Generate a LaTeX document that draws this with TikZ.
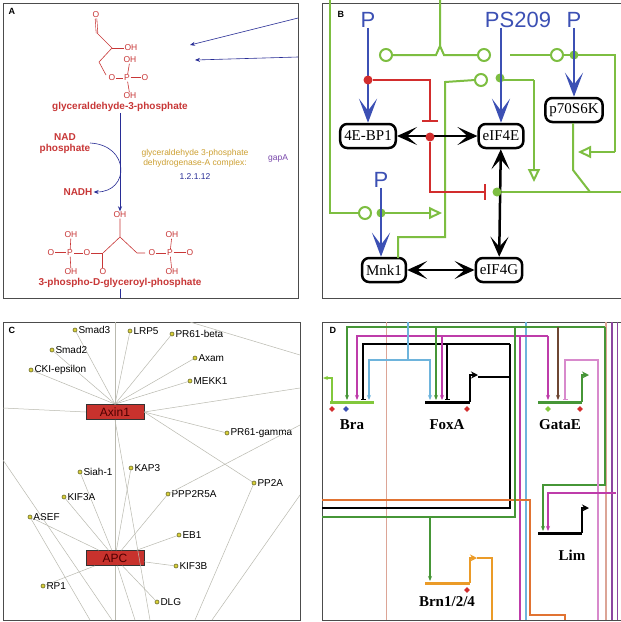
\documentclass[tikz,border=0pt]{standalone}
\usepackage{fontspec}
\setmainfont{Liberation Serif}
\setsansfont{Liberation Sans}
\usetikzlibrary{arrows.meta,positioning,shapes.geometric}
\definecolor{chem}{RGB}{200,55,55}
\definecolor{navy}{RGB}{40,45,150}
\definecolor{enz}{RGB}{205,160,50}
\definecolor{gapc}{RGB}{120,70,170}
\definecolor{pblue}{RGB}{60,80,180}
\definecolor{lgreen}{RGB}{125,190,65}
\definecolor{bred}{RGB}{210,45,45}
\definecolor{edge}{RGB}{185,185,175}
\definecolor{olive}{RGB}{150,150,60}
\definecolor{boxred}{RGB}{200,50,45}
\definecolor{dlime}{RGB}{130,200,60}
\definecolor{dgreen}{RGB}{70,150,55}
\definecolor{dmag}{RGB}{190,60,170}
\definecolor{dcyan}{RGB}{110,180,220}
\definecolor{dbrown}{RGB}{110,70,50}
\definecolor{dpink}{RGB}{220,165,150}
\definecolor{dorange}{RGB}{235,155,40}
\definecolor{dored}{RGB}{225,115,50}
\definecolor{dpurple}{RGB}{140,70,160}
\tikzset{
    panel/.style={draw=black!70,line width=0.8pt},
    plabel/.style={font=\sffamily\bfseries\small,anchor=north west},
    atom/.style={text=chem,font=\sffamily\fontsize{8.5}{9}\selectfont,inner sep=0.5pt},
    bond/.style={draw=chem,line width=0.6pt},
    chemname/.style={text=chem,font=\sffamily\bfseries\fontsize{10}{11}\selectfont,inner sep=1pt},
    gene/.style={draw=black,line width=2.5pt,rounded corners=7pt,fill=white,font=\fontsize{15}{16}\selectfont,minimum height=24pt,inner xsep=4pt},
    phos/.style={text=pblue,font=\sffamily\fontsize{22}{22}\selectfont,inner sep=0pt},
    bigtip/.style={-{Stealth[length=24pt,width=18pt,inset=12pt]}},
    bigtips/.style={{Stealth[length=20pt,width=18pt,inset=10pt]}-{Stealth[length=20pt,width=18pt,inset=10pt]}},
    gline/.style={draw=lgreen,line width=2pt},
    ocirc/.style={circle,draw=lgreen,line width=2pt,fill=white,minimum size=12pt,inner sep=0pt},
    fdot/.style={circle,fill=lgreen,minimum size=9pt,inner sep=0pt},
    rdot/.style={circle,fill=bred,minimum size=9pt,inner sep=0pt},
    otri/.style={-{Triangle[open,length=13pt,width=12pt,line width=2pt]}},
    prot/.style={circle,draw=olive!70!black,fill=yellow!60!olive,minimum size=4pt,inner sep=0pt,line width=0.6pt},
    plab/.style={font=\sffamily\fontsize{10}{10}\selectfont,anchor=west,inner sep=1pt},
    hub/.style={draw=black!80,fill=boxred,minimum width=58pt,minimum height=15pt,font=\sffamily\fontsize{12}{12}\selectfont,text=black!70!red},
    elink/.style={draw=edge,line width=0.5pt},
    wire/.style={line width=1.5pt,-{Stealth[length=5pt,width=4pt]}},
    rep/.style={line width=1.5pt,-{Bar[width=5pt]}},
    gbar/.style={line width=3pt},
    glab/.style={font=\fontsize{15}{16}\selectfont\bfseries},
    dia/.style={diamond,minimum size=6pt,inner sep=0pt}
}
\begin{document}
\begin{tikzpicture}[x=1pt,y=-1pt]
\useasboundingbox (0,0) rectangle (621,622);
\fill[white] (0,0) rectangle (621,622);
% panel A
\draw[panel] (3,3) rectangle (298,298);
\node[plabel] at (5,5) {A};
\node[atom] (o1) at (96,15) {O};
\draw[bond,double,double distance=1pt] (o1.south) -- (97,33);
\draw[bond] (97,33) -- (112,48) -- (99,62) -- (106,75);
\node[atom] (oh1) at (131,48) {OH};
\draw[bond] (112,48) -- (oh1.west);
\node[atom] (o2) at (112,78) {O};
\node[atom] (p1) at (127,78) {P};
\node[atom] (o3) at (145,78) {O};
\node[atom] (oh2) at (130,60) {OH};
\node[atom] (oh3) at (130,96) {OH};
\draw[bond] (o2) -- (p1);
\draw[bond,double,double distance=1pt] (p1) -- (o3);
\draw[bond] (p1) -- (oh2); \draw[bond] (p1) -- (oh3);
\node[chemname] (g3p) at (120,107) {glyceraldehyde-3-phosphate};
\node[chemname,align=center] (nad) at (65,144) {NAD\\phosphate};
\node[chemname] (nadh) at (78,192) {NADH};
\node[text=enz,font=\sffamily\fontsize{8.5}{10}\selectfont,align=center] (enzn) at (195,158) {glyceraldehyde 3-phosphate\\dehydrogenase-A complex:};
\node[text=navy,font=\sffamily\fontsize{8.5}{10}\selectfont,below=0pt of enzn] (ec) {1.2.1.12};
\node[text=gapc,font=\sffamily\fontsize{8.5}{10}\selectfont] (gapa) at (278,158) {gapA};
\node[atom] (oh4) at (120,215) {OH};
\draw[navy,line width=0.6pt,-{Stealth[length=5pt,width=4pt]}] (g3p) -- (oh4);
\draw[navy,line width=0.6pt,-{Stealth[length=5pt,width=4pt]}] (90,143) .. controls (130,145) and (130,192) .. (nadh.east);
\draw[navy,line width=0.6pt,-{Stealth[length=5pt,width=4pt]}] (298,18) -- (190,45);
\draw[navy,line width=0.6pt,-{Stealth[length=5pt,width=4pt]}] (298,57) -- (195,60);
\draw[bond] (oh4) -- (120,237) -- (103,253);
\draw[bond] (120,237) -- (137,253) -- (145,253);
\node[atom] (o4) at (87,253) {O};
\node[atom] (p2) at (70,253) {P};
\node[atom] (o5) at (51,253) {O};
\node[atom] (oh5) at (71,235) {OH};
\node[atom] (oh6) at (71,272) {OH};
\node[atom] (o6) at (103,272) {O};
\draw[bond] (103,253) -- (o4); \draw[bond] (o4) -- (p2);
\draw[bond,double,double distance=1pt] (p2) -- (o5);
\draw[bond] (p2) -- (oh5); \draw[bond] (p2) -- (oh6);
\draw[bond,double,double distance=1pt] (103,253) -- (o6);
\node[atom] (o7) at (152,253) {O};
\node[atom] (p3) at (170,253) {P};
\node[atom] (o8) at (190,253) {O};
\node[atom] (oh7) at (172,235) {OH};
\node[atom] (oh8) at (172,272) {OH};
\draw[bond] (o7) -- (p3);
\draw[bond,double,double distance=1pt] (p3) -- (o8);
\draw[bond] (p3) -- (oh7); \draw[bond] (p3) -- (oh8);
\node[chemname] (pgp) at (120,283) {3-phospho-D-glyceroyl-phosphate};
\draw[navy,line width=0.6pt] (pgp) -- (120,298);
% panel B
\draw[panel] (322,3) rectangle (621,298);
\node[plabel] at (334,8) {B};
\node[gene] (bp1) at (368,136) {4E-BP1};
\node[gene] (e4e) at (501,136) {eIF4E};
\node[gene] (p70) at (574,110) {p70S6K};
\node[gene] (mnk) at (384,270) {Mnk1};
\node[gene] (e4g) at (499,270) {eIF4G};
\node[phos] (pa) at (368,20) {P};
\node[phos] (pb) at (518,20) {PS209};
\node[phos] (pc) at (574,20) {P};
\node[phos] (pd) at (381,180) {P};
% green lines
\draw[gline] (440,0) -- (440,46) -- (436,55) -- (392,55);
\draw[gline] (440,46) -- (444,55) -- (479,55);
\node[ocirc] (c1) at (386,55) {};
\node[ocirc] (c2) at (484,55) {};
\draw[gline] (510,55) -- (615,55) -- (615,152);
\draw[gline,otri] (615,152) -- (578,152);
\node[ocirc] (c3) at (557,55) {};
\node[fdot] (d3) at (574,55) {};
\draw[gline] (p70.south) ++(-1,0) -- (573,170) -- (590,192);
\draw[gline] (398,258) -- (398,237) -- (445,237) -- (445,82) -- (475,80);
\node[ocirc] (c4) at (481,80) {};
\draw[gline] (500,80) -- (534,80);
\draw[gline,otri] (534,80) -- (534,182);
\node[fdot] (d4) at (500,78) {};
\draw[gline] (330,0) -- (330,213) -- (360,213);
\draw[gline,otri] (381,213) -- (442,213);
\node[ocirc] (c5) at (365,213) {};
\node[fdot] (d5) at (381,213) {};
\draw[gline] (497,192) -- (621,192);
% blue arrows
\draw[pblue,line width=2.5pt,bigtip] (pa) -- (bp1);
\draw[pblue,line width=2.5pt,bigtip] (pb.south) ++(-17,0) -- (e4e);
\draw[pblue,line width=2.5pt,bigtip] (pc) -- (p70);
\draw[pblue,line width=2.5pt,bigtip] (pd) -- (mnk.north -| pd);
% red
\node[rdot] (r1) at (368,80) {};
\draw[bred,line width=2pt,-{Bar[width=16pt]}] (r1) -- (430,80) -- (430,122);
\draw[black,line width=2.5pt,bigtips] (bp1) -- (e4e);
\node[rdot] (r2) at (430,137) {};
\draw[bred,line width=2pt,-{Bar[width=16pt]}] (r2) -- (430,192) -- (486,192);
\draw[black,line width=2.5pt,bigtips] (e4e) -- (e4g);
\draw[black,line width=2.5pt,bigtips] (mnk) -- (e4g);
\node[fdot] (d6) at (497,192) {};
% panel C
\draw[panel] (3,322) rectangle (300,620);
\node[plabel] at (5,324) {C};
\node[hub] (axin) at (115,412) {Axin1};
\node[hub] (apc) at (115,558) {APC};
\foreach \n/\x/\y in {smadc/75/330,lrp/130/331,prb/172/334,smadb/52/350,axam/195/358,cki/31/370,mekk/190/381}
  {\node[prot] (\n) at (\x,\y) {}; \draw[elink] (\n) -- (axin.north);}
\foreach \n/\x/\y in {prg/227/433,pptwo/254/483}
  {\node[prot] (\n) at (\x,\y) {}; \draw[elink] (\n) -- (axin.east);}
\foreach \n/\x/\y in {siah/80/472,kap/131/468,ppp/168/494,kifa/64/497,asef/30/517,eb/179/535,kifb/176/566,rp/43/586,dlg/157/602}
  {\node[prot] (\n) at (\x,\y) {}; \draw[elink] (\n) -- (apc);}
\node[plab] at (smadc.east) {Smad3};
\node[plab] at (lrp.east) {LRP5};
\node[plab] at (prb.east) {PR61-beta};
\node[plab] at (smadb.east) {Smad2};
\node[plab] at (axam.east) {Axam};
\node[plab] at (cki.east) {CKI-epsilon};
\node[plab] at (mekk.east) {MEKK1};
\node[plab] at (prg.east) {PR61-gamma};
\node[plab] at (pptwo.east) {PP2A};
\node[plab] at (siah.east) {Siah-1};
\node[plab] at (kap.east) {KAP3};
\node[plab] at (ppp.east) {PPP2R5A};
\node[plab] at (kifa.east) {KIF3A};
\node[plab] at (asef.east) {ASEF};
\node[plab] at (eb.east) {EB1};
\node[plab] at (kifb.east) {KIF3B};
\node[plab] at (rp.east) {RP1};
\node[plab] at (dlg.east) {DLG};
\begin{scope}
\clip (3,322) rectangle (300,620);
\draw[elink] (axin.west) -- (3,408);
\draw[elink] (axin.east) -- (300,388);
\draw[elink] (190,322) -- (300,355);
\draw[elink] (115,322) -- (axin.north);
\draw[elink] (axin.south) -- (apc.north);
\draw[elink] (apc.south) -- (115,620);
\draw[elink] (axin.south) -- (150,620);
\draw[elink] (3,460) -- (112,620);
\draw[elink] (asef) -- (90,620);
\draw[elink] (ppp) -- (300,425);
\draw[elink] (pptwo) -- (195,620);
\draw[elink] (300,495) -- (212,620);
\draw[elink] (apc) -- (135,620);
\end{scope}
% panel D
\draw[panel] (322,322) rectangle (621,620);
\node[plabel] at (326,324) {D};
\coordinate (bra) at (352,402);
\coordinate (foxa) at (447,402);
\coordinate (gata) at (560,402);
\coordinate (lim) at (560,533);
\coordinate (brn) at (447,583);
\draw[gbar,dlime] (330,402) -- (374,402);
\draw[gbar,black] (425,402) -- (470,402);
\draw[gbar,dgreen] (538,402) -- (582,402);
\draw[gbar,black] (538,533) -- (582,533);
\draw[gbar,dorange] (425,583) -- (470,583);
\node[glab,below=14pt of bra] {Bra};
\node[glab,below=14pt of foxa] {FoxA};
\node[glab,below=14pt of gata] {GataE};
\node[glab,below=14pt of lim,xshift=12pt] {Lim};
\node[glab,below=10pt of brn] {Brn1/2/4};
\node[dia,fill=bred] at (332,409) {};
\node[dia,fill=pblue] at (346,409) {};
\node[dia,fill=bred] at (467,409) {};
\node[dia,fill=dlime] at (548,409) {};
\node[dia,fill=bred] at (580,409) {};
\node[dia,fill=bred] at (467,590) {};
% long verticals
\draw[dpink,line width=1pt] (386,322) -- (386,620);
\draw[dcyan,line width=1.2pt] (526,322) -- (526,620);
\draw[dmag,line width=1.2pt] (520,335) -- (520,620);
\draw[dpink,line width=1.2pt] (606,322) -- (606,620);
\draw[dpurple,line width=1.2pt] (612,322) -- (612,620);
\draw[dpurple,line width=1pt] (617,322) -- (617,620);
% inputs
\draw[wire,dgreen] (605,327) -- (347,327) -- (347,400);
\draw[wire,dgreen] (605,327) -- (605,485) -- (543,485) -- (543,531);
\draw[wire,dmag] (548,336) -- (357,336) -- (357,400);
\draw[wire,dmag] (548,336) -- (548,400);
\draw[rep,black] (510,344) -- (363,344) -- (363,400);
\draw[line width=1.8pt,black] (510,344) -- (510,508) -- (322,508);
\draw[wire,dcyan] (408,322) -- (408,360) -- (369,360) -- (369,400);
\draw[wire,dcyan] (408,360) -- (430,360) -- (430,400);
\draw[wire,dgreen] (436,327) -- (436,400);
\draw[wire,dmag] (442,337) -- (442,400);
\draw[rep,black] (447,344) -- (447,400);
\draw[wire,dbrown] (558,327) -- (558,400);
\draw[rep,dmag!60] (598,620) -- (598,360) -- (565,360) -- (565,400);
\draw[wire,dmag] (616,493) -- (548,493) -- (548,531);
\draw[dored,line width=1.2pt] (322,500) -- (530,500) -- (530,615) -- (565,615) -- (565,620);
\draw[dgreen,line width=1.5pt] (322,517) -- (515,517) -- (515,327);
\draw[wire,dgreen] (430,517) -- (430,581);
% promoters
\draw[wire,dlime] (332,402) -- (332,378) -- (323,378);
\draw[line width=2pt,black,-{Stealth[length=7pt,width=7pt]}] (470,402) -- (470,375) -- (478,375);
\draw[black,line width=1.5pt] (478,377) -- (510,377);
\draw[line width=2pt,dgreen,-{Stealth[length=7pt,width=7pt]}] (582,402) -- (582,375) -- (589,375);
\draw[line width=2pt,black,-{Stealth[length=7pt,width=7pt]}] (582,533) -- (582,508) -- (589,508);
\draw[line width=2pt,dorange,-{Stealth[length=7pt,width=7pt]}] (470,583) -- (470,558) -- (477,558);
\draw[dorange,line width=1.5pt] (477,558) -- (492,558) -- (492,620);
\end{tikzpicture}
\end{document}
